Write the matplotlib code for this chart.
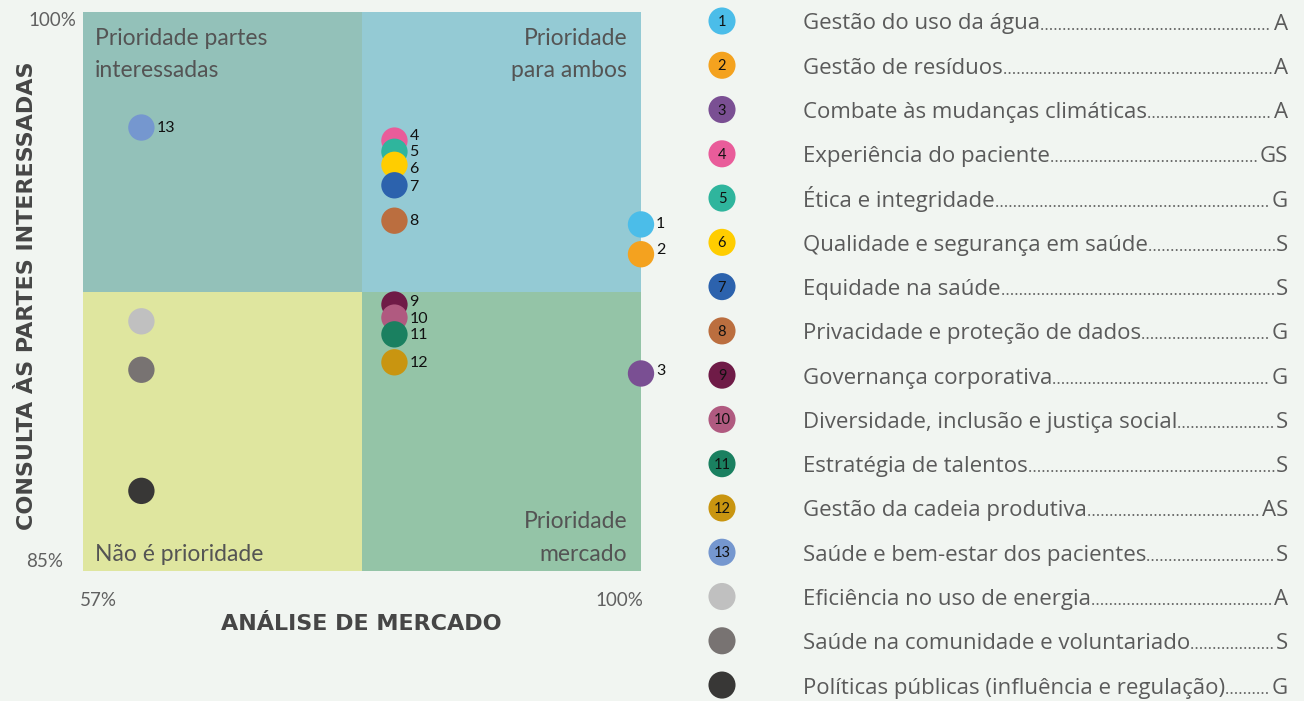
import matplotlib
matplotlib.use('Agg')
import matplotlib.pyplot as plt
from matplotlib.lines import Line2D

# ---------------- data ----------------
ids = ['1', '2', '3', '4', '5', '6', '7', '8', '9', '10', '11', '12', '13', '', '', '']
topics = [
    'Gestão do uso da água',
    'Gestão de resíduos',
    'Combate às mudanças climáticas',
    'Experiência do paciente',
    'Ética e integridade',
    'Qualidade e segurança em saúde',
    'Equidade na saúde',
    'Privacidade e proteção de dados',
    'Governança corporativa',
    'Diversidade, inclusão e justiça social',
    'Estratégia de talentos',
    'Gestão da cadeia produtiva',
    'Saúde e bem-estar dos pacientes',
    'Eficiência no uso de energia',
    'Saúde na comunidade e voluntariado',
    'Políticas públicas (influência e regulação)',
]
codes = ['A', 'A', 'A', 'GS', 'G', 'S', 'S', 'G', 'G', 'S', 'S', 'AS', 'S', 'A', 'S', 'G']
market = [100, 100, 100, 81.0, 81.0, 81.0, 81.0, 81.0, 81.0, 81.0, 81.0, 81.0, 61.5, 61.5, 61.5, 61.5]
stakeholders = [94.3, 93.5, 90.3, 96.55, 96.25, 95.9, 95.35, 94.4, 92.15, 91.8, 91.35, 90.6, 96.9, 91.7, 90.4, 87.15]
colors = ['#4bbde9', '#f4a21f', '#7a4f93', '#e95c9a', '#2fb59d', '#ffcd00', '#2c62ad', '#bb6e3f',
          '#6f1b47', '#b05a80', '#1a8060', '#c99510', '#7597cf', '#c0c0c0', '#787372', '#383736']

x_range = (57, 100)
y_range = (85, 100)
x_mid = 78.5
y_mid = 92.5
x_tick_labels = ['57%', '100%']
y_tick_labels = ['85%', '100%']

quad_colors = {'tl': '#93c1b9', 'tr': '#94cad4', 'bl': '#dfe69f', 'br': '#94c4a7'}

# vertical nudges (pixels, up positive) for crowded point labels
label_nudge = {'2': 4, '3': 2, '4': 5, '6': -4, '7': -2, '9': 3, '10': -1, '11': -1, '12': -1}

BG = '#f1f5f1'
TXT = '#545454'
FONT = 'Lato'

W, H = 1304, 701
fig = plt.figure(figsize=(W / 100, H / 100), dpi=100, facecolor=BG)

# ---------------- matrix ----------------
ax = fig.add_axes([83 / W, 1 - 571 / H, 558 / W, 559 / H])
ax.set_xlim(*x_range)
ax.set_ylim(*y_range)
ax.axis('off')

ax.axvspan(x_range[0], x_mid, ymin=0.5, ymax=1, color=quad_colors['tl'], lw=0, zorder=0)
ax.axvspan(x_mid, x_range[1], ymin=0.5, ymax=1, color=quad_colors['tr'], lw=0, zorder=0)
ax.axvspan(x_range[0], x_mid, ymin=0, ymax=0.5, color=quad_colors['bl'], lw=0, zorder=0)
ax.axvspan(x_mid, x_range[1], ymin=0, ymax=0.5, color=quad_colors['br'], lw=0, zorder=0)

ax.scatter(market, stakeholders, s=360, c=colors, lw=0, zorder=3, clip_on=False)
for i, m, s in zip(ids, market, stakeholders):
    if i:
        ax.annotate(i, (m, s), xytext=(15, label_nudge.get(i, 0)), textcoords='offset pixels',
                    ha='left', va='center', fontsize=11.5, color='#111111', family=FONT,
                    zorder=4, annotation_clip=False)

qfs = 16.5
qkw = dict(transform=ax.transAxes, fontsize=qfs, color=TXT, family=FONT, va='baseline')
xl, xr = 12 / 558, 1 - 14 / 558
yt1, yt2 = 1 - 33 / 559, 1 - 65 / 559
yb1, yb2 = 43 / 559, 10 / 559
ax.text(xl, yt1, 'Prioridade partes', ha='left', **qkw)
ax.text(xl, yt2, 'interessadas', ha='left', **qkw)
ax.text(xr, yt1, 'Prioridade', ha='right', **qkw)
ax.text(xr, yt2, 'para ambos', ha='right', **qkw)
ax.text(xl, yb2, 'Não é prioridade', ha='left', **qkw)
ax.text(xr, yb1, 'Prioridade', ha='right', **qkw)
ax.text(xr, yb2, 'mercado', ha='right', **qkw)

tfs = 13.5
tkw = dict(textcoords='offset pixels', va='center', fontsize=tfs, color='#606060',
           family=FONT, annotation_clip=False)
ax.annotate(y_tick_labels[1], (x_range[0], y_range[1]), xytext=(-7, -8), ha='right', **tkw)
ax.annotate(y_tick_labels[0], (x_range[0], y_range[0]), xytext=(-20, 10), ha='right', **tkw)
ax.annotate(x_tick_labels[0], (x_range[0], y_range[0]), xytext=(-3, -29), ha='left', **tkw)
ax.annotate(x_tick_labels[1], (x_range[1], y_range[0]), xytext=(2, -29), ha='right', **tkw)

ax.text(0.498, -0.0948, 'ANÁLISE DE MERCADO', transform=ax.transAxes, ha='center', va='center',
        fontsize=16, fontweight='bold', color='#464646', family='DejaVu Sans')
ax.text(-0.1004, 0.492, 'CONSULTA ÀS PARTES INTERESSADAS', transform=ax.transAxes, ha='center',
        va='center', rotation=90, fontsize=16, fontweight='bold', color='#464646',
        family='DejaVu Sans')

# ---------------- legend list ----------------
lax = fig.add_axes([0, 0, 1, 1])
lax.set_xlim(0, W)
lax.set_ylim(H, 0)
lax.axis('off')
lax.patch.set_alpha(0)

row0, dy = 21, 44.27
circle_x, text_x, end_x = 722, 803, 1288
rows = [row0 + k * dy for k in range(len(topics))]
lax.scatter([circle_x] * len(rows), rows, s=380, c=colors, lw=0, zorder=3)

renderer = fig.canvas.get_renderer()
lfs = 16
LFONT = 'Open Sans'
for y, i, t, c in zip(rows, ids, topics, codes):
    if i:
        lax.text(circle_x, y + 1, i, ha='center', va='center', fontsize=10.5, color='#111111',
                 family=FONT, zorder=4)
    base = y + 8.5
    tt = lax.text(text_x, base, t, ha='left', va='baseline', fontsize=lfs, color='#5a5a5a',
                  family=LFONT)
    ct = lax.text(end_x, base, c, ha='right', va='baseline', fontsize=lfs, color='#5a5a5a',
                  family=LFONT)
    b1 = tt.get_window_extent(renderer)
    b2 = ct.get_window_extent(renderer)
    x0, x1 = b1.x1 + 2, b2.x0 - 2
    if x1 > x0:
        lax.add_line(Line2D([x0, x1], [base - 1, base - 1], color='#555555', lw=1.3,
                            linestyle=(0, (0.15, 2.3)), dash_capstyle='round'))

fig.savefig('out.png', dpi=100, facecolor=BG)
